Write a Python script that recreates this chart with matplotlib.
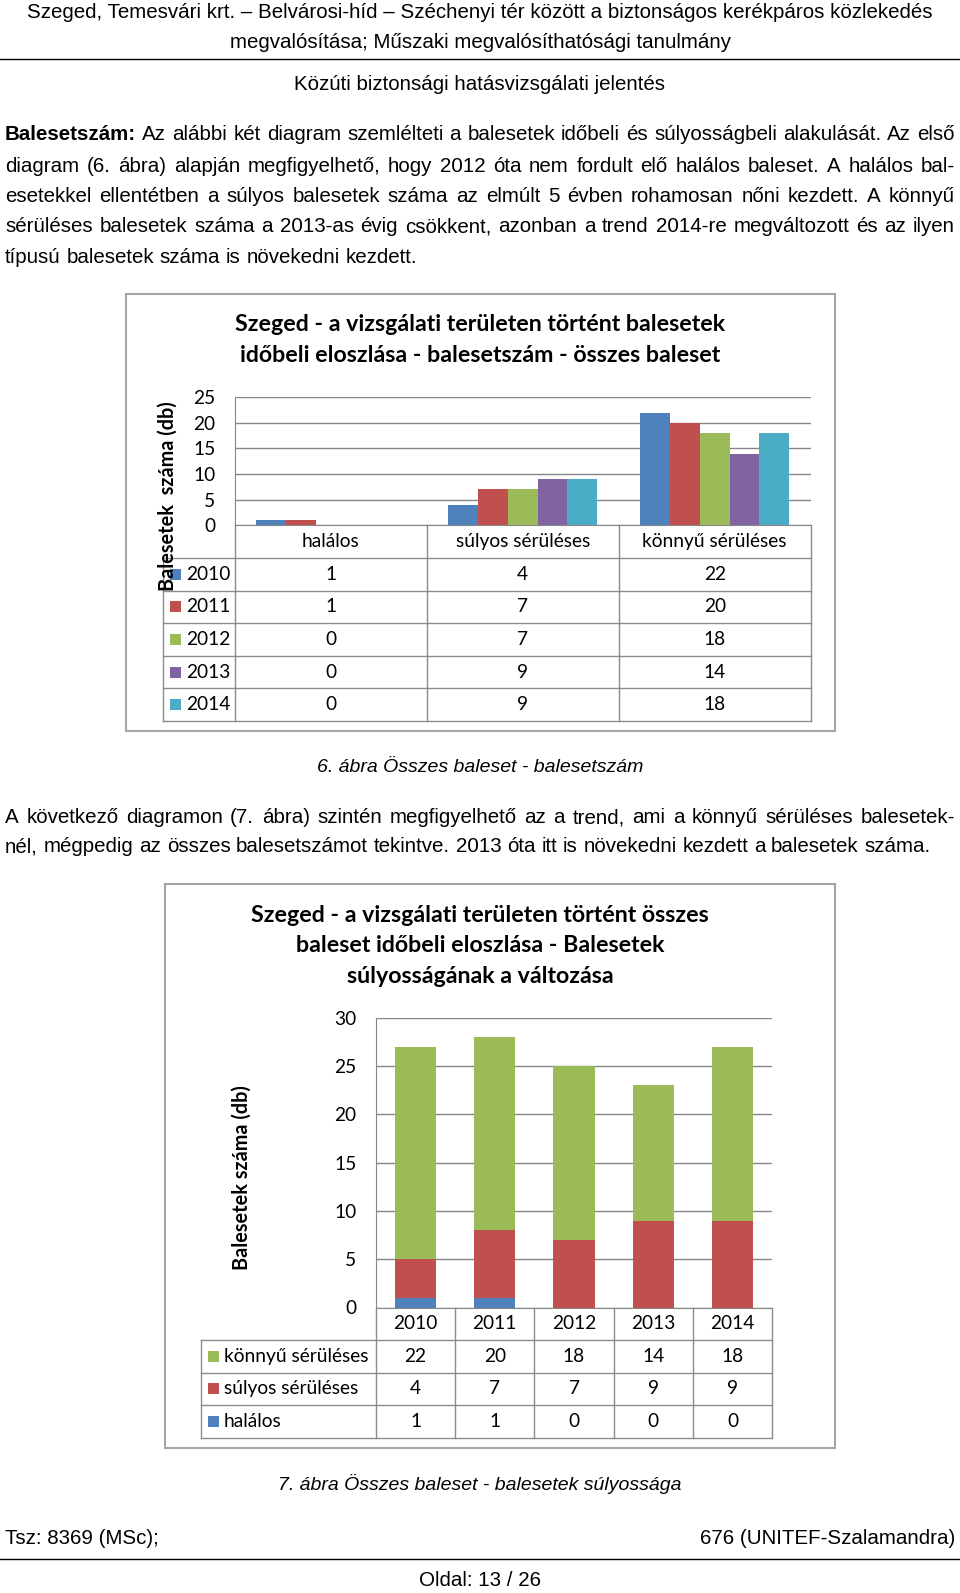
import matplotlib
matplotlib.use('Agg')
import matplotlib.pyplot as plt
from matplotlib.patches import Rectangle
import numpy as np

W, H = 960, 1593

# data
years = ['2010', '2011', '2012', '2013', '2014']
categories = ['halálos', 'súlyos sérüléses', 'könnyű sérüléses']
halalos = [1, 1, 0, 0, 0]
sulyos = [4, 7, 7, 9, 9]
konnyu = [22, 20, 18, 14, 18]
year_colors = ['#4F81BD', '#C0504D', '#9BBB59', '#8064A2', '#4BACC6']
sev_colors = {'halálos': '#4F81BD', 'súlyos sérüléses': '#C0504D', 'könnyű sérüléses': '#9BBB59'}

header1 = 'Szeged, Temesvári krt. – Belvárosi-híd – Széchenyi tér között a biztonságos kerékpáros közlekedés'
header2 = 'megvalósítása; Műszaki megvalósíthatósági tanulmány'
header3 = 'Közúti biztonsági hatásvizsgálati jelentés'
para1 = ['Balesetszám: Az alábbi két diagram szemlélteti a balesetek időbeli és súlyosságbeli alakulását. Az első',
         'diagram (6. ábra) alapján megfigyelhető, hogy 2012 óta nem fordult elő halálos baleset. A halálos bal-',
         'esetekkel ellentétben a súlyos balesetek száma az elmúlt 5 évben rohamosan nőni kezdett. A könnyű',
         'sérüléses balesetek száma a 2013-as évig csökkent, azonban a trend 2014-re megváltozott és az ilyen',
         'típusú balesetek száma is növekedni kezdett.']
para2 = ['A következő diagramon (7. ábra) szintén megfigyelhető az a trend, ami a könnyű sérüléses balesetek-',
         'nél, mégpedig az összes balesetszámot tekintve. 2013 óta itt is növekedni kezdett a balesetek száma.']
title1 = 'Szeged - a vizsgálati területen történt balesetek\nidőbeli eloszlása - balesetszám - összes baleset'
title2 = 'Szeged - a vizsgálati területen történt összes\nbaleset időbeli eloszlása - Balesetek\nsúlyosságának a változása'
caption1 = '6. ábra Összes baleset - balesetszám'
caption2 = '7. ábra Összes baleset - balesetek súlyossága'

BODY = 'Liberation Sans'
BS = 14.8
CH = 'Lato'
TS = 16.7   # chart titles
FS = 13.8   # chart tick / table text
GRID = '#868686'
LINE = '#8C8C8C'

fig = plt.figure(figsize=(W / 100, H / 100), dpi=100)
fig.patch.set_facecolor('white')


def fx(x):
    return x / W


def fy(y):
    return 1 - y / H


def add_ax(left, top, right, bottom):
    return fig.add_axes([fx(left), fy(bottom), (right - left) / W, (bottom - top) / H])


page = fig.add_axes([0, 0, 1, 1])
page.set_xlim(0, W)
page.set_ylim(H, 0)
page.axis('off')

r = fig.canvas.get_renderer()


def text_width(s, **kw):
    t = page.text(0, 0, s, fontsize=BS, family=BODY, **kw)
    w = t.get_window_extent(r).width
    t.remove()
    return w


SPACE = text_width('a a') - text_width('aa')


def justified(y, line, x0=5, x1=955, last=False, bold_words=0):
    words = line.split(' ')
    texts = []
    for i, w in enumerate(words):
        t = page.text(0, y, w, fontsize=BS, family=BODY, va='baseline', ha='left',
                      fontweight='bold' if i < bold_words else 'normal')
        texts.append(t)
    widths = [t.get_window_extent(r).width for t in texts]
    if last:
        gap = SPACE
    else:
        gap = (x1 - x0 - sum(widths)) / (len(words) - 1)
    x = x0
    for t, w in zip(texts, widths):
        t.set_x(x)
        x += w + gap


# header
page.text(480, 12, header1, fontsize=BS, family=BODY, ha='center', va='center')
page.text(480, 42, header2, fontsize=BS, family=BODY, ha='center', va='center')
page.plot([0, W], [59, 59], color='black', lw=1)
page.text(480, 85, header3, fontsize=BS, family=BODY, ha='center', va='center')

# baselines of the body lines
for i, (yy, ln) in enumerate(zip([140, 171.6, 202, 232.5, 263], para1)):
    justified(yy, ln, last=(i == len(para1) - 1), bold_words=1 if i == 0 else 0)
for i, (yy, ln) in enumerate(zip([823, 852.5], para2)):
    justified(yy, ln, last=(i == len(para2) - 1))


def style_ax(ax, ymax):
    ax.set_facecolor('none')
    ax.set_ylim(0, ymax)
    ax.set_yticks(np.arange(0, ymax + 1, 5))
    ax.yaxis.grid(True, color=GRID, lw=1)
    ax.set_axisbelow(True)
    for s in ['top', 'right']:
        ax.spines[s].set_visible(False)
    for s in ['left', 'bottom']:
        ax.spines[s].set_color(GRID)
    ax.tick_params(axis='y', length=0, pad=14, labelsize=FS)
    ax.tick_params(axis='x', length=0, labelbottom=False)
    for lab in ax.get_yticklabels():
        lab.set_family(CH)


def table(ax, n, col_labels, row_labels, row_colors, values, tleft, top, rh, mx, lx):
    xs = [ax.transData.transform((v, 0))[0] for v in np.arange(-0.5, n + 0.5)]
    nrow = len(row_labels)
    bottom = top + rh * (nrow + 1)
    for j, lab in enumerate(col_labels):
        page.text((xs[j] + xs[j + 1]) / 2, top + rh / 2, lab, fontsize=FS, family=CH, ha='center', va='center')
    for k in range(1, nrow + 2):
        page.plot([tleft, xs[-1]], [top + k * rh] * 2, color=LINE, lw=1)
    for xv in xs:
        page.plot([xv, xv], [top, bottom], color=LINE, lw=1)
    page.plot([tleft, tleft], [top + rh, bottom], color=LINE, lw=1)
    for i, lab in enumerate(row_labels):
        yc = top + rh * (i + 1.5)
        page.add_patch(Rectangle((mx, yc - 5.5), 11, 11, color=row_colors[i], lw=0))
        page.text(lx, yc, lab, fontsize=FS, family=CH, ha='left', va='center')
        for j in range(n):
            page.text((xs[j] + xs[j + 1]) / 2, yc, str(values[i][j]), fontsize=FS, family=CH,
                      ha='center', va='center')


# ---- chart 1 ----
page.add_patch(Rectangle((126, 294), 709, 437, fill=False, edgecolor='#A6A6A6', lw=1.5))
page.text(480, 340, title1, fontsize=TS, family=CH, fontweight='bold', ha='center', va='center',
          linespacing=1.55)
ax1 = add_ax(234.7, 397.2, 810.7, 525.2)
style_ax(ax1, 25)
ax1.set_xlim(-0.5, 2.5)
x = np.arange(len(categories))
bw = 0.155
for i, yr in enumerate(years):
    vals = [halalos[i], sulyos[i], konnyu[i]]
    ax1.bar(x + (i - 2) * bw, vals, bw, color=year_colors[i], lw=0)
vals1 = [[halalos[i], sulyos[i], konnyu[i]] for i in range(len(years))]
table(ax1, 3, categories, years, year_colors, vals1, 162.5, 525.2, 32.65, 170, 186)
page.text(168, 496, 'Balesetek  száma (db)', fontsize=14.3, family=CH, fontweight='bold',
          rotation=90, ha='center', va='center')
page.text(480, 767, caption1, fontsize=14, family=BODY, style='italic', ha='center', va='center')

# ---- chart 2 ----
page.add_patch(Rectangle((164.6, 884), 670.4, 563.6, fill=False, edgecolor='#A6A6A6', lw=1.5))
page.text(480, 946, title2, fontsize=TS, family=CH, fontweight='bold', ha='center', va='center',
          linespacing=1.55)
ax2 = add_ax(375.9, 1017.9, 772.1, 1307.5)
style_ax(ax2, 30)
ax2.set_xlim(-0.5, 4.5)
x2 = np.arange(len(years))
bw2 = 0.52
ax2.bar(x2, halalos, bw2, color=sev_colors['halálos'], lw=0)
ax2.bar(x2, sulyos, bw2, bottom=halalos, color=sev_colors['súlyos sérüléses'], lw=0)
ax2.bar(x2, konnyu, bw2, bottom=np.add(halalos, sulyos), color=sev_colors['könnyű sérüléses'], lw=0)
rows2 = ['könnyű sérüléses', 'súlyos sérüléses', 'halálos']
table(ax2, 5, years, rows2, [sev_colors[k] for k in rows2], [konnyu, sulyos, halalos],
      201, 1307.5, 32.5, 208, 224)
page.text(242, 1178, 'Balesetek száma (db)', fontsize=14.3, family=CH, fontweight='bold',
          rotation=90, ha='center', va='center')
page.text(480, 1484, caption2, fontsize=14, family=BODY, style='italic', ha='center', va='center')

# footer
page.text(5, 1538, 'Tsz: 8369 (MSc);', fontsize=BS, family=BODY, ha='left', va='center')
page.text(955, 1538, '676 (UNITEF-Szalamandra)', fontsize=BS, family=BODY, ha='right', va='center')
page.plot([0, W], [1559, 1559], color='black', lw=1)
page.text(480, 1580, 'Oldal: 13 / 26', fontsize=BS, family=BODY, ha='center', va='center')

fig.savefig('out.png', dpi=100)
